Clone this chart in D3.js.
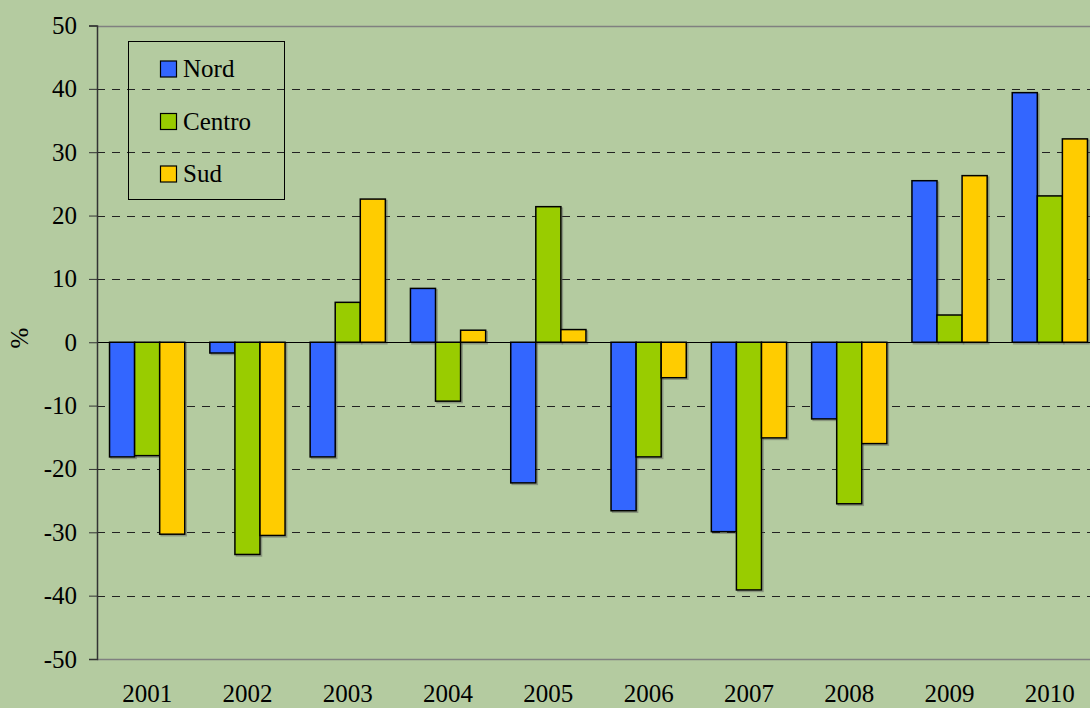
<!DOCTYPE html>
<html>
<head>
<meta charset="utf-8">
<script src="https://cdn.jsdelivr.net/npm/d3@7"></script>
<style>
  body { margin: 0; background: #b4cba0; }
  svg { display: block; }
  svg text { font-family: "Liberation Serif", "Times New Roman", serif; }
</style>
</head>
<body>
<svg id="chart"></svg>
<script>
const years = ["2001", "2002", "2003", "2004", "2005", "2006", "2007", "2008", "2009", "2010"];
const seriesNames = ["Nord", "Centro", "Sud"];
const nord = [-18.1, -1.7, -18.1, 8.5, -22.2, -26.6, -29.9, -12.1, 25.5, 39.4];
const centro = [-17.9, -33.5, 6.3, -9.3, 21.4, -18.1, -39.1, -25.5, 4.3, 23.1];
const sud = [-30.3, -30.5, 22.6, 1.9, 2.0, -5.6, -15.1, -16.0, 26.3, 32.1];
const yTicks = [50, 40, 30, 20, 10, 0, -10, -20, -30, -40, -50];
const colors = ["#3366ff", "#99cc00", "#ffcc00"];

const width = 1090, height = 708;
const margin = { top: 25.5, left: 97, bottom: 49 };
const fontSize = "25px";

const svg = d3.select("#chart")
  .attr("width", width)
  .attr("height", height)
  .style("background-color", "#b4cba0");

// scales
const x = d3.scaleBand()
  .domain(years)
  .range([margin.left, margin.left + 1003]);

const y = d3.scaleLinear()
  .domain([-50, 50])
  .range([height - margin.bottom, margin.top]);

const inner = d3.scaleBand()
  .domain(seriesNames)
  .range([0, x.bandwidth()])
  .paddingOuter(0.5)
  .paddingInner(0);

// gridlines
svg.append("g")
  .selectAll("line")
  .data(yTicks.filter(d => d !== 0))
  .join("line")
  .attr("x1", margin.left)
  .attr("x2", width)
  .attr("y1", d => Math.round(y(d)) + 0.5)
  .attr("y2", d => Math.round(y(d)) + 0.5)
  .attr("stroke", d => (d === 50 || d === -50) ? "#808080" : "#222")
  .attr("stroke-width", d => (d === 50 || d === -50) ? 1.5 : 1)
  .attr("stroke-dasharray", d => (d === 50 || d === -50) ? null : "8,7");

// bars (with a faint shadow like the original)
const allSeries = [nord, centro, sud];
seriesNames.forEach((name, si) => {
  const rows = allSeries[si].map((v, i) => ({ year: years[i], v }));
  svg.append("g")
    .selectAll("rect")
    .data(rows)
    .join("rect")
    .attr("x", d => x(d.year) + inner(name) + 1.5)
    .attr("y", d => y(Math.max(0, d.v)) + 1.5)
    .attr("width", inner.bandwidth())
    .attr("height", d => Math.abs(y(d.v) - y(0)))
    .attr("fill", "none")
    .attr("stroke", "#555")
    .attr("stroke-opacity", 0.45)
    .attr("stroke-width", 1.5);
  svg.append("g")
    .selectAll("rect")
    .data(rows)
    .join("rect")
    .attr("x", d => x(d.year) + inner(name))
    .attr("y", d => y(Math.max(0, d.v)))
    .attr("width", inner.bandwidth())
    .attr("height", d => Math.abs(y(d.v) - y(0)))
    .attr("fill", colors[si])
    .attr("stroke", "#000")
    .attr("stroke-width", 1.5);
});

// zero line
svg.append("line")
  .attr("x1", margin.left)
  .attr("x2", width)
  .attr("y1", Math.round(y(0)) + 0.5)
  .attr("y2", Math.round(y(0)) + 0.5)
  .attr("stroke", "#000")
  .attr("stroke-width", 1);

// y axis
const yAxis = d3.axisLeft(y)
  .tickValues(yTicks)
  .tickSize(8)
  .tickPadding(12)
  .tickFormat(d => String(d));

const yg = svg.append("g")
  .attr("transform", `translate(${margin.left},0)`)
  .call(yAxis)
  .attr("font-family", null)
  .attr("font-size", null);
yg.select("path.domain").attr("stroke", "#333").attr("stroke-width", 1.5);
yg.selectAll("line").attr("stroke", "#333");
yg.selectAll("text")
  .style("font-size", fontSize)
  .attr("fill", "#000");

// x labels
svg.append("g")
  .selectAll("text")
  .data(years)
  .join("text")
  .attr("x", d => x(d) + x.bandwidth() / 2)
  .attr("y", 702)
  .attr("text-anchor", "middle")
  .style("font-size", fontSize)
  .text(d => d);

// y title
svg.append("text")
  .attr("transform", "translate(19,338) rotate(-90)")
  .attr("text-anchor", "middle")
  .attr("dominant-baseline", "central")
  .style("font-size", fontSize)
  .text("%");

// legend
const legend = svg.append("g");
legend.append("rect")
  .attr("x", 128.5)
  .attr("y", 41.5)
  .attr("width", 156)
  .attr("height", 158)
  .attr("fill", "none")
  .attr("stroke", "#000")
  .attr("stroke-width", 1);

seriesNames.forEach((name, i) => {
  const ly = 61 + i * 52.5;
  legend.append("rect")
    .attr("x", 160.5)
    .attr("y", ly)
    .attr("width", 16)
    .attr("height", 16)
    .attr("fill", colors[i])
    .attr("stroke", "#000")
    .attr("stroke-width", 1.2);
  legend.append("text")
    .attr("x", 183)
    .attr("y", ly + 16)
    .style("font-size", fontSize)
    .text(name);
});
</script>
</body>
</html>
